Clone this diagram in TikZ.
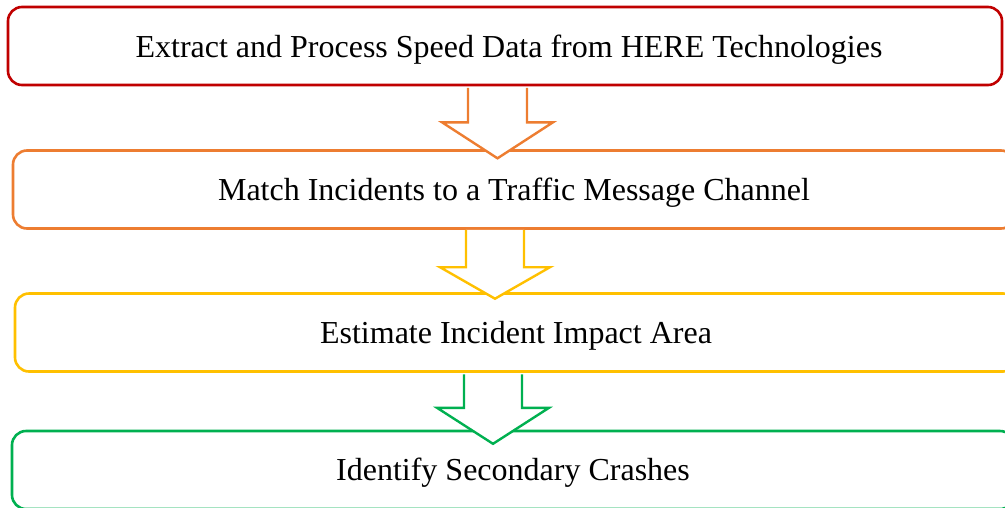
\documentclass[tikz,border=0pt]{standalone}
\usepackage{fontspec}
\setmainfont{Liberation Serif}
\usepackage{tikz}
\usetikzlibrary{calc}

\definecolor{stagered}{HTML}{C00000}
\definecolor{stageorange}{HTML}{ED7D31}
\definecolor{stageyellow}{HTML}{FFC000}
\definecolor{stagegreen}{HTML}{00B050}

\tikzset{
    stage/.style={draw=#1, line width=2.6pt, rounded corners=14pt, fill=white,
        minimum height=78pt, inner sep=0pt, text height=26pt, text depth=5pt,
        font=\fontsize{32}{38}\selectfont},
    flow/.style={draw=#1, line width=2.4pt, fill=white, line join=miter},
}

\begin{document}
\begin{tikzpicture}[x=1pt, y=-1pt]
\useasboundingbox (0,0) rectangle (1005,507);

% stages
\node [stage=stagered, minimum width=994pt, text height=28pt] (extract) at (505,46)
    {\hspace*{8pt}Extract and Process Speed Data from HERE Technologies};
\node [stage=stageorange, minimum width=1002pt] (match) at (514,189.5)
    {Match Incidents to a Traffic Message Channel};
\node [stage=stageyellow, minimum width=1002pt] (impact) at (516,332.5)
    {Estimate Incident Impact Area};
\node [stage=stagegreen, minimum width=1002pt] (secondary) at (513,470)
    {Identify Secondary Crashes};

% block arrows
\draw [flow=stageorange]
    ($(extract.south)+(-37,1.6)$) -- ++(0,34.4) -- ++(-26,0) -- ++(55.5,36)
    -- ++(55.5,-36) -- ++(-26,0) -- ++(0,-34.4);
\draw [flow=stageyellow]
    ($(match.north)+(-48,1.6+79)$) -- ++(0,37.4) -- ++(-26,0) -- ++(55,31.5)
    -- ++(55,-31.5) -- ++(-26,0) -- ++(0,-37.4);
\draw [flow=stagegreen]
    ($(impact.south)+(-52,1.6)$) -- ++(0,33.4) -- ++(-27,0) -- ++(56,36)
    -- ++(56,-36) -- ++(-27,0) -- ++(0,-33.4);

\end{tikzpicture}
\end{document}
